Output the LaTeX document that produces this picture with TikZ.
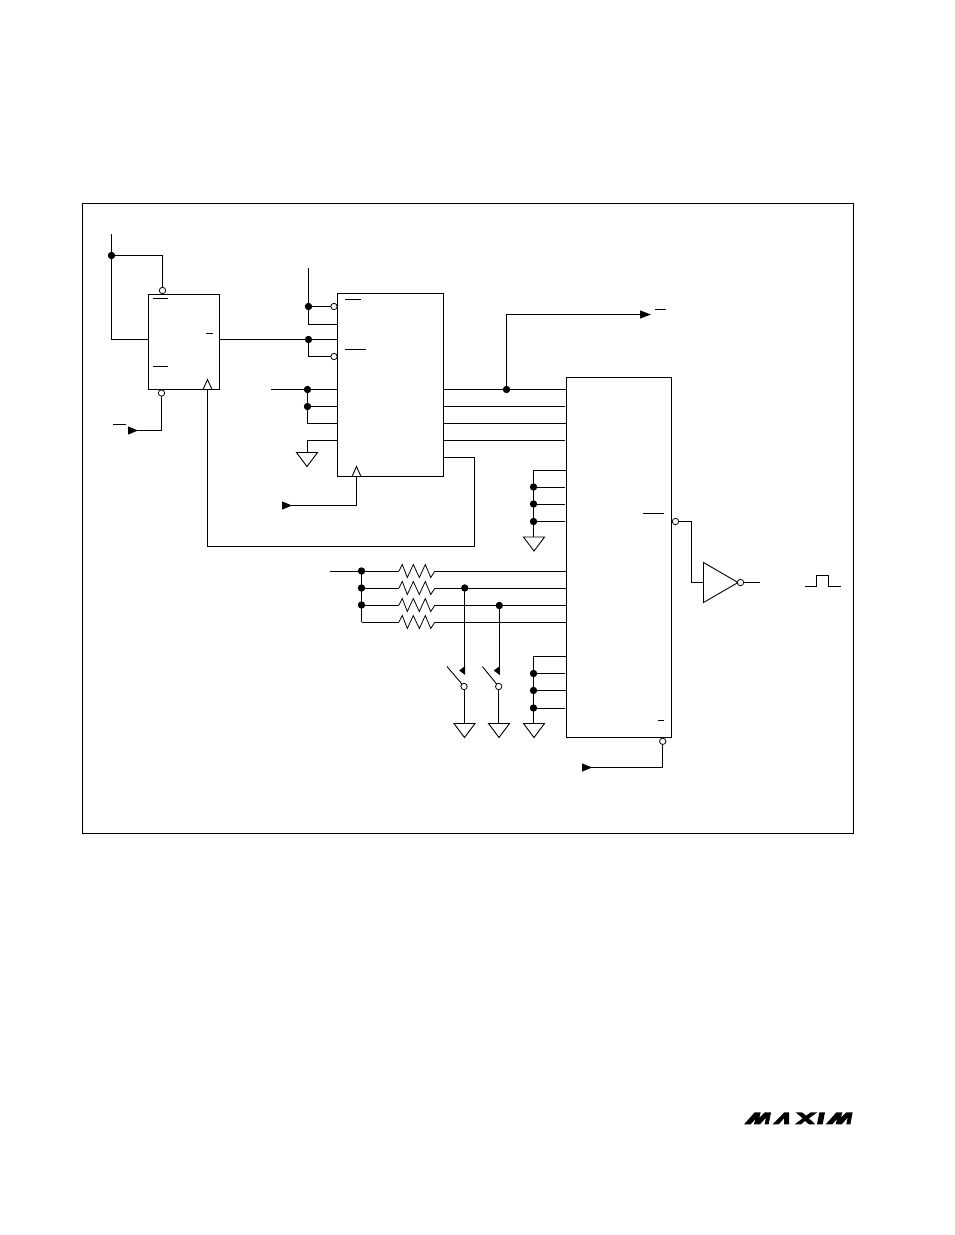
\documentclass[tikz,border=0pt]{standalone}
\usetikzlibrary{arrows.meta}
\tikzset{
  x=1pt,y=-1pt,
  wire/.style={line width=1pt,line join=miter},
  box/.style={draw,line width=1pt,rectangle,inner sep=0pt,outer sep=0pt,fill=white},
  jdot/.style={circle,fill=black,inner sep=0pt,outer sep=0pt,minimum size=7.4pt},
  bub/.style={circle,draw,fill=white,line width=.8pt,inner sep=0pt,outer sep=0pt,minimum size=6.4pt},
  gnd/.pic={\draw[line width=.9pt,fill=white] (-10.5,0)--(10.5,0)--(0,14)--cycle;},
  clk/.pic={\draw[line width=.9pt,fill=white] (-4.5,0)--(0,-10)--(4.5,0)--cycle;},
  ovbar/.style={line width=.9pt},
  headin/.style={{Triangle[reversed,length=10pt,width=8pt]}-},
  headout/.style={-{Triangle[length=11pt,width=8pt]}},
  res/.pic={\draw[line width=.8pt] (0,0)--(3.3,-6.5)--(8.3,6.5)--(14.3,-6.5)--(20.3,6.5)--(26.3,-6.5)--(31.7,6.5)--(36,0);},
}
\begin{document}
\begin{tikzpicture}
\useasboundingbox (0,0) rectangle (954,1235);
\fill[white] (0,0) rectangle (954,1235);
\node[box,minimum width=771pt,minimum height=629.5pt] (frame) at (467.7,518.7) {};
\node[box,minimum width=71pt,minimum height=95pt] (ua) at (184,342) {};
\node[box,minimum width=106pt,minimum height=183pt] (ub) at (390.5,385) {};
\node[box,minimum width=105pt,minimum height=360pt] (uc) at (619,557.5) {};

% overbars
\draw[ovbar] (153,298)--(168,298) (153,366)--(168,366) (206,333)--(213,333) (113,424)--(126,424);
\draw[ovbar] (345,299.5)--(361,299.5) (345,349)--(366,349);
\draw[ovbar] (655,309)--(666,309) (643,513)--(664,513) (658,720.5)--(664,720.5);

% UA connections
\coordinate (vt) at (111.5,234);
\node[jdot] (j1) at (111.5,255.5) {};
\node[bub] (b1) at (162.5,290.5) {};
\coordinate (c1) at (148.5,339.5);
\draw[wire] (vt) -- (j1.center) -- (j1.center -| b1) -- (b1);
\draw[wire] (j1.center) -- (111.5,339.5) -- (c1);
\node[bub] (b2) at (161.5,393) {};
\coordinate (a1) at (128,430.5);
\draw[wire,headin] (a1) -- (161.5,430.5) -- (b2);
\coordinate (fbout) at (443.5,457.5);
\coordinate (ck1) at (207.5,389.5);
\draw[wire] (fbout) -- (474,457.5) -- (474,546) -- (207.5,546) -- (ck1);
\pic at (ck1) {clk};

% UB input side
\coordinate (v2) at (308.5,268);
\node[jdot] (j2) at (308.5,306.5) {};
\node[bub] (b3) at (334,306.5) {};
\node[bub] (b4) at (334,356.5) {};
\node[jdot] (j3) at (308.5,339.5) {};
\coordinate (ub1) at (337.5,324.5);
\draw[wire] (v2) -- (j2.center) -- (b3);
\draw[wire] (j2.center) -- (308.5,324.5) -- (ub1);
\draw[wire] (219.5,339.5) -- (j3.center) -- (337.5,339.5);
\draw[wire] (j3.center) -- (308.5,356.5) -- (b4);
\coordinate (in3) at (271,389.5);
\node[jdot] (j4) at (307.5,389.5) {};
\node[jdot] (j5) at (307.5,406.5) {};
\draw[wire] (in3) -- (j4.center) -- (337.5,389.5);
\draw[wire] (j4.center) -- (j5.center) -- (337.5,406.5);
\draw[wire] (j5.center) -- (307.5,423.5) -- (337.5,423.5);
\coordinate (g1) at (307,452.5);
\draw[wire] (337.5,440.5) -- (307,440.5) -- (g1);
\pic at (g1) {gnd};
\coordinate (ck2) at (356.5,476.5);
\draw[wire,headin] (282,505.5) -- (356.5,505.5) -- (ck2);
\pic at (ck2) {clk};

% UB to UC
\node[jdot] (j6) at (506.5,389.5) {};
\draw[wire] (443.5,389.5) -- (j6.center) -- (566.5,389.5);
\draw[wire,headout] (j6.center) -- (506.5,314.5) -- (651,314.5);
\draw[wire] (443.5,406.5) -- (565,406.5);
\draw[wire] (443.5,423.5) -- (566.5,423.5);
\draw[wire] (443.5,440.5) -- (565,440.5);

% UC upper tied group
\node[jdot] (k1) at (533.5,487) {};
\node[jdot] (k2) at (533.5,504) {};
\node[jdot] (k3) at (533.5,521.5) {};
\coordinate (g2) at (534,537);
\draw[wire] (566.5,470.5) -- (533.5,470.5) -- (k1.center) -- (k2.center) -- (k3.center) -- (533.5,537);
\draw[wire] (k1.center) -- (565,487);
\draw[wire] (k2.center) -- (565,504);
\draw[wire] (k3.center) -- (565,521.5);
\pic at (g2) {gnd};

% Output and inverter
\node[bub] (b5) at (675.5,521.5) {};
\coordinate (inv1) at (703.5,582.5);
\draw[wire] (b5) -- (691.5,521.5) -- (691.5,582.5) -- (inv1);
\draw[line width=.9pt,fill=white] (703.5,562.5) -- (738,582.5) -- (703.5,602.5) -- cycle;
\node[bub] (b6) at (740.5,582.5) {};
\coordinate (out) at (760,582.5);
\draw[wire] (b6) -- (out);
\draw[wire] (805,586) -- (816.5,586) -- (816.5,575.5) -- (828,575.5) -- (828,586) -- (841,586);

% Resistor ladder
\coordinate (in4) at (330,571);
\node[jdot] (r1) at (361.5,571) {};
\node[jdot] (r2) at (361.5,588) {};
\node[jdot] (r3) at (361.5,605) {};
\draw[wire] (r1.center) -- (r2.center) -- (r3.center) -- (361.5,622);
\draw[wire] (in4) -- (r1.center);
\pic at (399,571) {res};
\pic at (399,588) {res};
\pic at (399,605) {res};
\pic at (399,622) {res};
\draw[wire] (r1.center) -- (399,571) (435,571) -- (566.5,571);
\draw[wire] (r2.center) -- (399,588) (435,588) -- (566.5,588);
\draw[wire] (r3.center) -- (399,605) (435,605) -- (566.5,605);
\draw[wire] (361.5,622) -- (399,622) (435,622) -- (566.5,622);

% Switches
\node[jdot] (s1) at (464.7,588) {};
\node[jdot] (s2) at (499.3,605.5) {};
\coordinate (st1) at (464.7,670.5);
\coordinate (st2) at (499.3,670.5);
\draw[wire] (s1.center) -- (st1);
\draw[wire] (s2.center) -- (st2);
\fill (st1) ++(.5,-4.5) -- ++(0,9) -- ++(-6,-4.5) -- cycle;
\fill (st2) ++(.5,-4.5) -- ++(0,9) -- ++(-6,-4.5) -- cycle;
\node[bub] (sb1) at (464,686.5) {};
\node[bub] (sb2) at (498.7,686.5) {};
\coordinate (bl1) at (447,666.5);
\coordinate (bl2) at (482.3,666.5);
\draw[line width=.9pt] (bl1) -- (sb1);
\draw[line width=.9pt] (bl2) -- (sb2);
\coordinate (g3) at (464.5,723.5);
\coordinate (g4) at (499,723.5);
\draw[wire] (sb1) -- (sb1 |- g3);
\draw[wire] (sb2) -- (sb2 |- g4);
\pic at (g3) {gnd};
\pic at (g4) {gnd};

% UC lower tied group
\node[jdot] (m1) at (533.5,673.5) {};
\node[jdot] (m2) at (533.5,690.5) {};
\node[jdot] (m3) at (533.5,708) {};
\coordinate (g5) at (534,723.5);
\draw[wire] (566.5,656.7) -- (533.5,656.7) -- (m1.center) -- (m2.center) -- (m3.center) -- (533.5,723.5);
\draw[wire] (m1.center) -- (565,673.5);
\draw[wire] (m2.center) -- (566.5,690.5);
\draw[wire] (m3.center) -- (565,708);
\pic at (g5) {gnd};

% UC bottom bubble
\node[bub] (b7) at (662.7,741.3) {};
\draw[wire,headin] (582,767.5) -- (662.7,767.5) -- (b7);

% Logo
\begin{scope}[shift={(730,1095)},x=.3333pt,y=-.3333pt]
\fill (42,88)--(74,52)--(92,52)--(88,68)--(104,52)--(123,52)--(116,88)--(104,88)--(108,68)--(90,88)--(72,88)--(76,72)--(62,88)--cycle;
\fill (128,88)--(163,52)--(177,52)--(177,88)--(162,88)--(162,70)--(146,88)--cycle;
\fill (197,52)--(216,52)--(228,62)--(242,52)--(262,52)--(237,70)--(256,88)--(237,88)--(225,78)--(213,88)--(194,88)--(218,70)--cycle;
\fill (268,52)--(285,52)--(278,88)--(261,88)--cycle;
\begin{scope}[xshift=81.67pt]
\fill (42,88)--(74,52)--(92,52)--(88,68)--(104,52)--(123,52)--(116,88)--(104,88)--(108,68)--(90,88)--(72,88)--(76,72)--(62,88)--cycle;
\end{scope}
\end{scope}
\end{tikzpicture}
\end{document}
